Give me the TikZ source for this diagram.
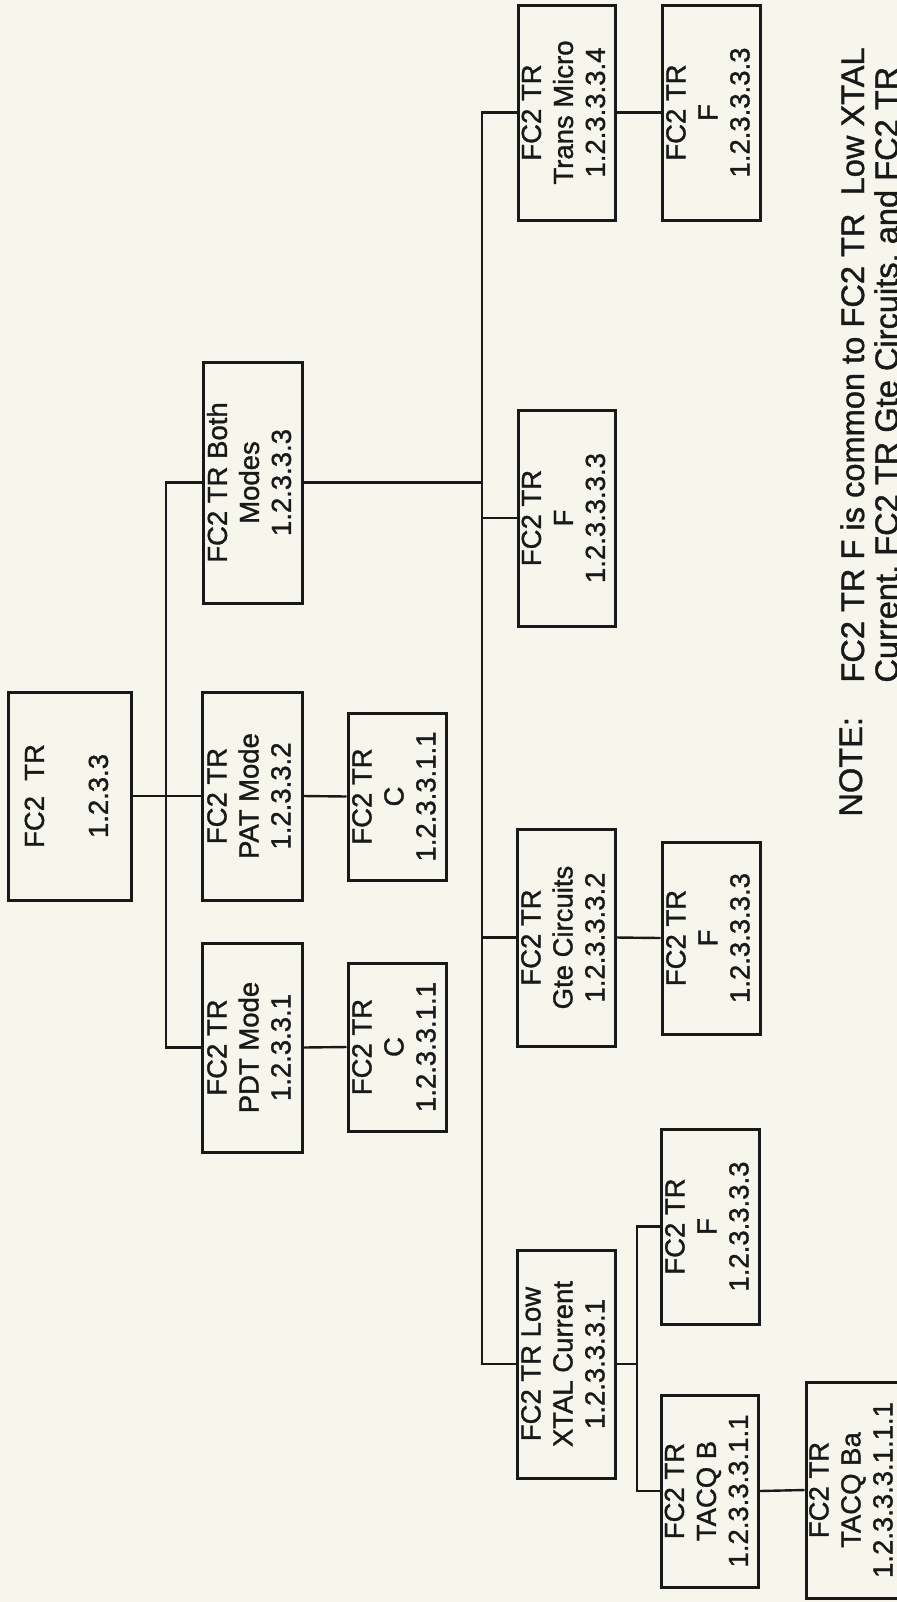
\documentclass[tikz,border=0pt]{standalone}
\usepackage{fontspec}
\setmainfont{Liberation Sans}
\newfontfamily\scanfont[FakeBold=1.2]{Liberation Sans}
\usepackage{tikz}
\usetikzlibrary{positioning,calc}
\definecolor{ink}{RGB}{25,25,25}
\definecolor{paper}{RGB}{246,246,237}
\newcommand{\vlines}[1]{\rotatebox{90}{\begin{tabular}{@{}c@{}}#1\end{tabular}}}

\begin{document}
\begin{tikzpicture}[x=0.5pt, y=-0.5pt,
    box/.style={rectangle, draw=ink, line width=1.5pt, inner sep=0pt,
        minimum width=49pt, text=ink, font=\scanfont\fontsize{13.75}{16}\selectfont},
    link/.style={draw=ink, line width=1.2pt},
    notetext/.style={rotate=90, anchor=base west, inner sep=0pt,
        font=\scanfont\fontsize{16.3}{19}\selectfont, text=ink}
]
    \useasboundingbox (0,0) rectangle (897,1602);
    \clip (0,0) rectangle (897,1602);
    \fill[paper] (0,0) rectangle (897,1602);

    % first level
    \node[box, minimum width=61.5pt, minimum height=104pt] (root) at (69.5,796) {\vlines{FC2\ \ TR\\ \\1.2.3.3}};
    \node[box, minimum width=50pt, minimum height=104.5pt] (pdt) at (252,1047.5) {\vlines{FC2 TR\\PDT Mode\\1.2.3.3.1}};
    \node[box, minimum width=50pt, minimum height=104pt] (pat) at (252,796) {\vlines{FC2 TR\\PAT Mode\\1.2.3.3.2}};
    \node[box, minimum width=49.5pt, minimum height=120.5pt] (both) at (252.5,482.5) {\vlines{FC2 TR Both\\Modes\\1.2.3.3.3}};
    \node[box, minimum height=84pt] (pdtc) at (397,1047) {\vlines{FC2 TR\\C\\1.2.3.3.1.1}};
    \node[box, minimum height=83.5pt] (patc) at (397,796.5) {\vlines{FC2 TR\\C\\1.2.3.3.1.1}};

    % under both modes
    \node[box, minimum width=48.5pt, minimum height=107.5pt] (trans) at (566.5,112.5) {\vlines{FC2 TR\\Trans Micro\\1.2.3.3.3.4}};
    \node[box, minimum height=107.5pt] (transf) at (711,112.5) {\vlines{FC2 TR\\F\\1.2.3.3.3.3}};
    \node[box, minimum width=48.5pt, minimum height=108pt] (fbox) at (566.5,518) {\vlines{FC2 TR\\F\\1.2.3.3.3.3}};
    \node[box, minimum height=108.5pt] (gte) at (566,937.5) {\vlines{FC2 TR\\Gte Circuits\\1.2.3.3.3.2}};
    \node[box, minimum height=96pt] (gtef) at (711,938) {\vlines{FC2 TR\\F\\1.2.3.3.3.3}};
    \node[box, minimum height=114pt] (xtal) at (566,1364) {\vlines{FC2 TR Low\\XTAL Current\\1.2.3.3.3.1}};
    \node[box, minimum height=97.5pt] (xtalf) at (710,1226.5) {\vlines{FC2 TR\\F\\1.2.3.3.3.3}};
    \node[box, minimum width=48.5pt, minimum height=96pt] (tacqb) at (709.5,1491) {\vlines{FC2 TR\\TACQ B\\1.2.3.3.3.1.1}};
    \node[box, minimum width=47pt, minimum height=108pt] (tacqba) at (854,1490) {\vlines{FC2 TR\\TACQ Ba\\1.2.3.3.3.1.1.1}};

    % buses
    \coordinate (busA) at (166,0);
    \coordinate (busB) at (482,0);
    \coordinate (busC) at (637,0);

    \draw[link] (root.east) -- (pat.west);
    \draw[link] (both.west) -- (both.west -| busA) |- (pdt.west);
    \draw[link] (pat.east) -- (patc.west);
    \draw[link] (pdt.east) -- (pdtc.west);

    \draw[link] (both.east) -- (both.east -| busB);
    \draw[link] (trans.west) -- (trans.west -| busB) |- (xtal.west);
    \draw[link] (fbox.west -| busB) -- (fbox.west);
    \draw[link] (gte.west -| busB) -- (gte.west);
    \draw[link] (trans.east) -- (transf.west);
    \draw[link] (gte.east) -- (gtef.west);

    \draw[link] (xtal.east) -- (xtal.east -| busC);
    \draw[link] (xtalf.west) -- (xtalf.west -| busC) |- (tacqb.west);
    \draw[link] (tacqb.east) -- (tacqba.west);

    % note
    \node[notetext] (note) at (862,817) {NOTE:};
    \node[notetext] (notea) at (864,683) {FC2 TR F is common to FC2 TR\ \ Low XTAL};
    \node[notetext] (noteb) at (898,683) {Current, FC2 TR Gte Circuits, and FC2 TR};
\end{tikzpicture}
\end{document}
